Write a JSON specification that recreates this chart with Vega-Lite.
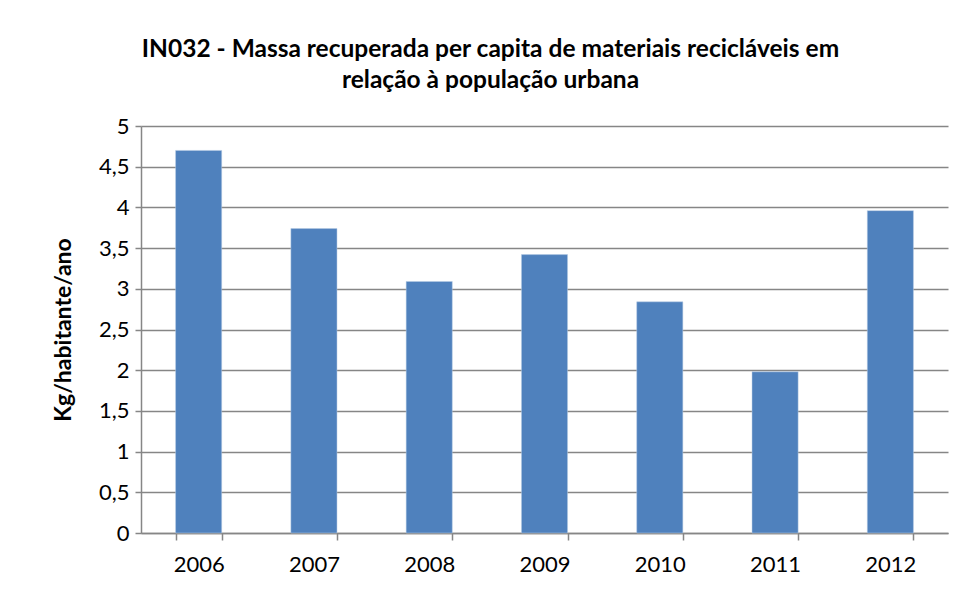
{
  "$schema": "https://vega.github.io/schema/vega-lite/v6.json",
  "autosize": "none",
  "width": 807,
  "height": 407,
  "padding": {"left": 141, "top": 126, "right": 17, "bottom": 61},
  "background": "white",
  "title": {
    "text": ["IN032 - Massa recuperada per capita de materiais recicláveis em", "relação à população urbana"],
    "font": "Lato",
    "fontSize": 24.5,
    "fontWeight": "bold",
    "color": "#000000",
    "anchor": "middle",
    "dx": -54,
    "offset": 22,
    "lineHeight": 31
  },
  "data": {
    "values": [
      {"ano": "2006", "valor": 4.70},
      {"ano": "2007", "valor": 3.74},
      {"ano": "2008", "valor": 3.09},
      {"ano": "2009", "valor": 3.42},
      {"ano": "2010", "valor": 2.84},
      {"ano": "2011", "valor": 1.98},
      {"ano": "2012", "valor": 3.96}
    ]
  },
  "mark": {"type": "bar", "color": "#4F81BD", "stroke": "#B9CDE5", "strokeWidth": 0.5},
  "encoding": {
    "x": {
      "field": "ano",
      "type": "nominal",
      "scale": {"paddingInner": 0.6, "paddingOuter": 0.3},
      "axis": {
        "title": null,
        "labelAngle": 0,
        "labelFont": "Lato",
        "labelFontSize": 22,
        "labelColor": "#000000",
        "labelPadding": 14,
        "tickBand": "extent",
        "tickSize": 7,
        "tickColor": "#868686",
        "tickWidth": 1.5,
        "domainColor": "#868686",
        "domainWidth": 1.5
      }
    },
    "y": {
      "field": "valor",
      "type": "quantitative",
      "scale": {"domain": [0, 5], "nice": false},
      "axis": {
        "title": "Kg/habitante/ano",
        "titleFont": "Lato",
        "titleFontSize": 23,
        "titleFontWeight": "bold",
        "titleColor": "#000000",
        "titlePadding": 23,
        "values": [0, 0.5, 1, 1.5, 2, 2.5, 3, 3.5, 4, 4.5, 5],
        "format": ",.1~f",
        "formatType": "number",
        "labelExpr": "replace(datum.label, '.', ',')",
        "labelFont": "Lato",
        "labelFontSize": 22,
        "labelColor": "#000000",
        "labelPadding": 6,
        "tickSize": 6,
        "tickColor": "#868686",
        "tickWidth": 1.5,
        "domainColor": "#868686",
        "domainWidth": 1.5,
        "grid": true,
        "gridColor": "#868686",
        "gridWidth": 1.5
      }
    }
  },
  "config": {"view": {"stroke": null}}
}
